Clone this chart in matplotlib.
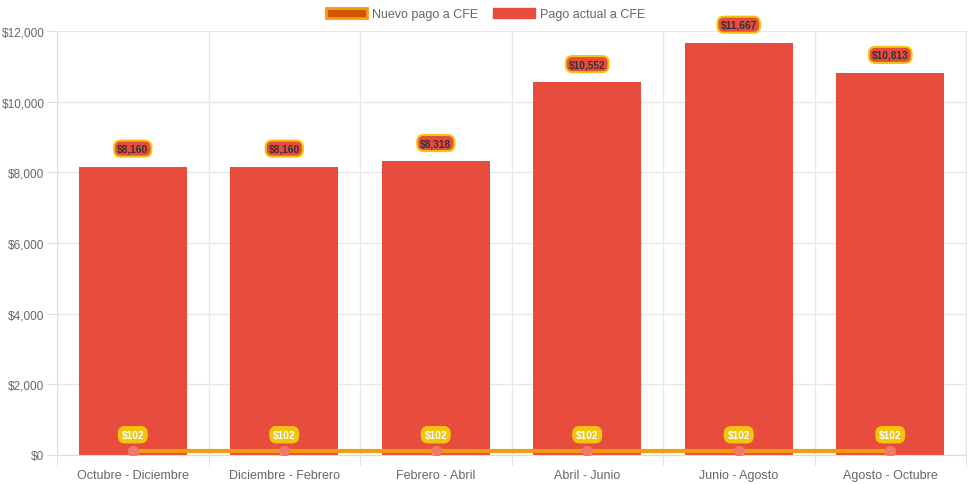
import matplotlib
matplotlib.use("Agg")
import matplotlib.pyplot as plt
from matplotlib.patches import Patch
from matplotlib.ticker import FuncFormatter, FixedLocator, MultipleLocator

plt.rcParams['font.family'] = ['Liberation Sans', 'DejaVu Sans']

periodos = ['Octubre - Diciembre', 'Diciembre - Febrero', 'Febrero - Abril',
            'Abril - Junio', 'Junio - Agosto', 'Agosto - Octubre']
pago_actual = [8160, 8160, 8318, 10552, 11667, 10813]
nuevo_pago = [102, 102, 102, 102, 102, 102]

rojo = '#e74c3c'
naranja = '#f39c12'
amarillo = '#f1c40f'

fig = plt.figure(figsize=(9.71, 4.85), dpi=100)
ax = fig.add_axes([57 / 971, 1 - 456 / 485, (966 - 57) / 971, (456 - 32) / 485])

x = list(range(len(periodos)))
ax.bar(x, pago_actual, width=0.715, color=rojo, zorder=2)
ax.plot(x, nuevo_pago, color=naranja, lw=3, zorder=3)
ax.plot(x, nuevo_pago, 'o', ms=7, mfc='#f07a6a', mec='#f07a6a', zorder=4)

# etiquetas de valor
for xi, v in zip(x, pago_actual):
    ax.annotate('${:,.0f}'.format(v), (xi, v), xytext=(0, 13), textcoords='offset points',
                ha='center', va='center', fontsize=7.3, fontweight='bold', color='#333333',
                bbox=dict(boxstyle='round,pad=0.3,rounding_size=0.65', fc=rojo, ec=amarillo, lw=1.5),
                zorder=5)
for xi, v in zip(x, nuevo_pago):
    ax.annotate('${:,.0f}'.format(v), (xi, v), xytext=(0, 12), textcoords='offset points',
                ha='center', va='center', fontsize=7.3, fontweight='bold', color='white',
                bbox=dict(boxstyle='round,pad=0.3,rounding_size=0.65', fc=amarillo, ec=amarillo, lw=1),
                zorder=5)

ax.set_xlim(-0.5, len(periodos) - 0.5)
ax.set_ylim(0, 12000)
ax.yaxis.set_major_locator(MultipleLocator(2000))
ax.yaxis.set_major_formatter(FuncFormatter(lambda v, p: '${:,.0f}'.format(v)))
ax.set_xticks(x)
ax.set_xticklabels(periodos)
ax.xaxis.set_minor_locator(FixedLocator([i + 0.5 for i in range(-1, len(periodos))]))
ax.tick_params(axis='x', which='major', length=0, pad=10, labelsize=9, labelcolor='#666666')
ax.tick_params(axis='x', which='minor', length=7, color='#dddddd')
ax.tick_params(axis='y', length=7, color='#dddddd', labelsize=8.5, labelcolor='#666666', pad=2)
ax.grid(axis='y', color='#e8e8e8', lw=1, zorder=0)
ax.grid(axis='x', which='minor', color='#e8e8e8', lw=1, zorder=0)
ax.spines['top'].set_visible(False)
ax.spines['left'].set_color('#dddddd')
ax.spines['bottom'].set_color('#dddddd')
ax.spines['right'].set_color('#e8e8e8')

handles = [Patch(fc='#d35400', ec=naranja, lw=2), Patch(fc=rojo, ec=rojo)]
fig.legend(handles, ['Nuevo pago a CFE', 'Pago actual a CFE'], loc='center',
           bbox_to_anchor=(0.5, 1 - 15 / 485), ncol=2, frameon=False, fontsize=9,
           handlelength=3.3, handleheight=0.9, columnspacing=1.2, handletextpad=0.4,
           labelcolor='#666666')

fig.savefig('out.png', dpi=100)
